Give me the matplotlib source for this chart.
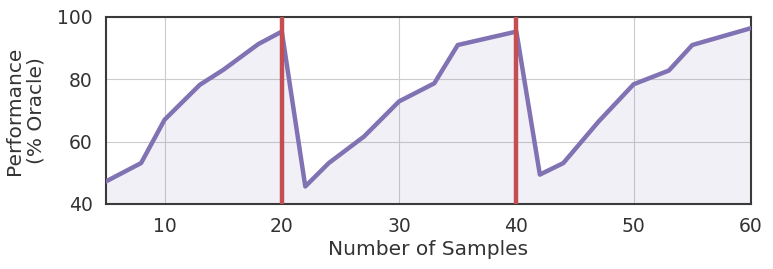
import numpy as np
import matplotlib.pyplot as plt
import seaborn as sns

sns.set_style('whitegrid')

samples = [5, 8, 10, 13, 15, 18, 20, 22, 24, 27, 30, 33, 35, 40, 42, 44, 47, 50, 53, 55, 60]
perf = [47.2, 53.1, 67.0, 78.2, 83.0, 91.3, 95.3, 45.6, 53.1, 61.6, 72.9, 78.7, 91.0, 95.3,
        49.4, 53.1, 66.4, 78.4, 82.8, 91.0, 96.4]
resets = [20, 40]

purple = '#8172B3'
red = '#C44E52'

fig = plt.figure(figsize=(7.73, 2.69), dpi=100)
ax = fig.add_axes([0.137, 0.242, 0.8345, 0.695])
ax.plot(samples, perf, color=purple, lw=3.2, zorder=3)
ax.fill_between(samples, perf, 40, color=purple, alpha=0.1, lw=0)
for r in resets:
    ax.axvline(r, color=red, lw=3.2, zorder=4)

ax.set_xlim(5, 60)
ax.set_ylim(40, 100)
ax.set_xticks([10, 20, 30, 40, 50, 60])
ax.set_yticks([40, 60, 80, 100])
ax.tick_params(labelsize=13.5, colors='#333333', pad=6)
ax.set_xlabel('Number of Samples', fontsize=14.5, color='#333333', labelpad=3)
ax.set_ylabel('Performance\n(% Oracle)', fontsize=14.5, color='#333333', labelpad=8)
for s in ax.spines.values():
    s.set_color('#3a3a3a')
    s.set_linewidth(1.5)

fig.savefig('out.png', dpi=100)
